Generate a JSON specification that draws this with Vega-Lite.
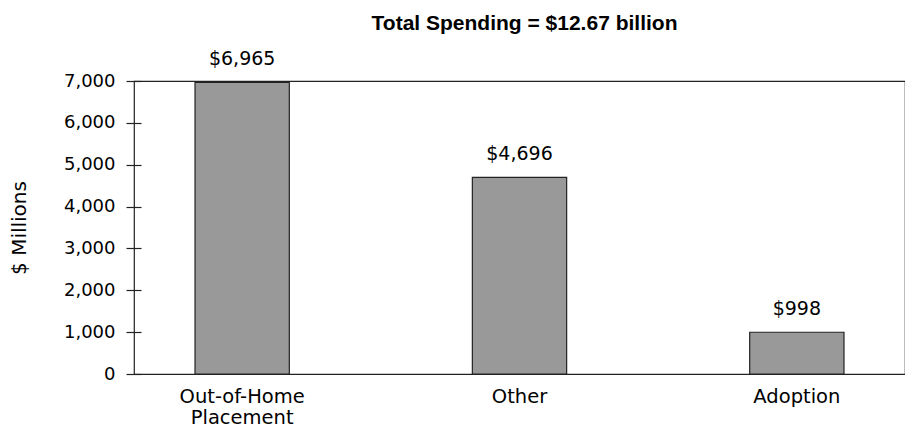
{
  "$schema": "https://vega.github.io/schema/vega-lite/v6.json",
  "autosize": {"type": "none"},
  "width": 771,
  "height": 293,
  "padding": {"left": 134, "top": 81, "right": 0, "bottom": 55},
  "background": "white",
  "config": {
    "view": {"stroke": "#222222", "strokeWidth": 1.2},
    "font": "DejaVu Sans"
  },
  "title": {
    "text": "Total Spending = $12.67 billion",
    "fontSize": 21,
    "fontWeight": "bold",
    "font": "Liberation Sans",
    "color": "black",
    "anchor": "middle",
    "dx": 5,
    "offset": 16
  },
  "data": {
    "values": [
      {"category": "Out-of-Home Placement", "spending": 6965, "label": "$6,965"},
      {"category": "Other", "spending": 4696, "label": "$4,696"},
      {"category": "Adoption", "spending": 998, "label": "$998"}
    ]
  },
  "encoding": {
    "x": {
      "field": "category",
      "type": "nominal",
      "sort": null,
      "scale": {"paddingInner": 0.66, "paddingOuter": 0.22},
      "axis": {
        "title": null,
        "domain": false,
        "ticks": false,
        "labelAngle": 0,
        "labelFont": "DejaVu Sans",
        "labelFontSize": 19.5,
        "labelColor": "black",
        "labelPadding": 13,
        "labelLineHeight": 21,
        "labelExpr": "datum.label == 'Out-of-Home Placement' ? ['Out-of-Home', 'Placement'] : datum.label"
      }
    },
    "y": {
      "field": "spending",
      "type": "quantitative",
      "scale": {"domain": [0, 7000], "nice": false},
      "axis": {
        "title": "$ Millions",
        "titleFont": "DejaVu Sans",
        "titleFontSize": 20,
        "titleFontWeight": "normal",
        "titleColor": "black",
        "titlePadding": 34,
        "values": [0, 1000, 2000, 3000, 4000, 5000, 6000, 7000],
        "format": ",d",
        "grid": false,
        "domain": false,
        "offset": -7,
        "tickSize": 15,
        "tickColor": "#222222",
        "tickWidth": 1.2,
        "labelFont": "DejaVu Sans",
        "labelFontSize": 18,
        "labelColor": "black",
        "labelPadding": 11
      }
    }
  },
  "layer": [
    {
      "mark": {"type": "bar", "color": "#999999", "stroke": "#222222", "strokeWidth": 1.2}
    },
    {
      "mark": {"type": "text", "font": "DejaVu Sans", "fontSize": 19, "color": "black", "baseline": "alphabetic", "dy": -17},
      "encoding": {"text": {"field": "label"}}
    }
  ]
}
